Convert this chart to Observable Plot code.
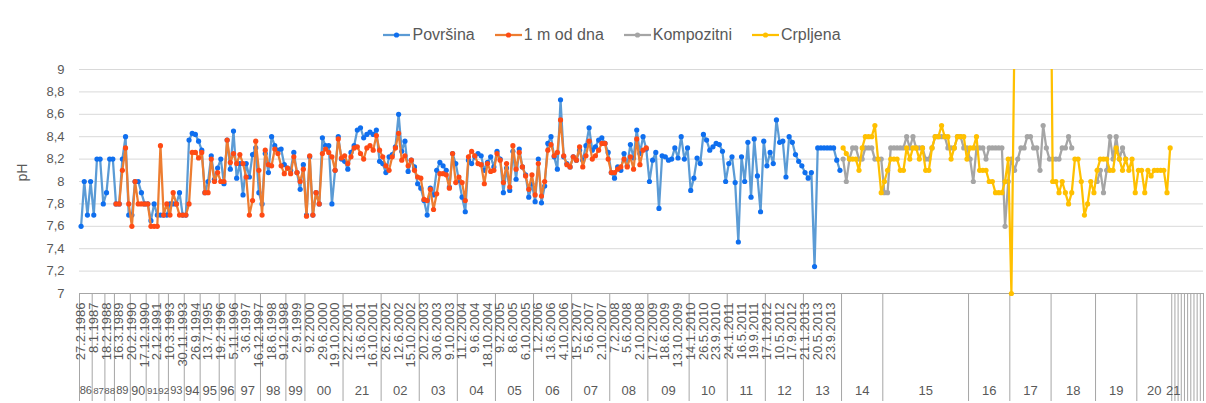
<!DOCTYPE html>
<html><head><meta charset="utf-8">
<script src="https://cdn.jsdelivr.net/npm/d3@7"></script>
<script src="https://cdn.jsdelivr.net/npm/@observablehq/plot@0.6"></script>
<style>
html,body{margin:0;padding:0;background:#fff;}
body{width:1206px;height:403px;overflow:hidden;font-family:"Liberation Sans",Arial,sans-serif;}
#legend{box-sizing:border-box;height:52px;padding-top:18px;padding-left:18px;display:flex;justify-content:center;align-items:center;gap:20px;font-size:16px;color:#595959;}
.item{display:flex;align-items:center;gap:2px;}
.item svg{display:block;}
</style></head><body>
<div id="legend"></div>
<div id="chart"></div>
<script>
// ---------- data ----------
const seriesNames = ["Površina", "1 m od dna", "Kompozitni", "Crpljena"];
const lineColors = ["#5B9BD5", "#ED7D31", "#A5A5A5", "#FFC000"];
const dotColors = ["#0F6FEF", "#FF4A14", "#A5A5A5", "#FFC000"];

const yTicks = [7, 7.2, 7.4, 7.6, 7.8, 8, 8.2, 8.4, 8.6, 8.8, 9];

// date labels shown on every 4th category
const labelEvery = 4;
const dateLabels = ["27.2.1986","8.1.1987","18.2.1988","16.3.1989","20.2.1990","17.12.1990","2.12.1991","10.3.1993","30.11.1993","26.9.1994",
"13.7.1995","19.2.1996","5.11.1996","3.6.1997","16.12.1997","18.6.1998","9.12.1998","2.9.1999","9.2.2000","29.6.2000",
"19.10.2000","22.2.2001","13.6.2001","16.10.2001","26.2.2002","12.6.2002","15.10.2002","20.2.2003","30.6.2003","9.10.2003",
"11.2.2004","9.6.2004","18.10.2004","9.2.2005","8.6.2005","6.10.2005","1.2.2006","13.6.2006","4.10.2006","15.2.2007",
"5.6.2007","2.10.2007","7.2.2008","5.6.2008","2.10.2008","17.2.2009","18.6.2009","13.10.2009","14.1.2010","26.5.2010",
"23.9.2010","24.1.2011","16.5.2011","19.9.2011","17.1.2012","10.5.2012","17.9.2012","21.1.2013","20.5.2013","23.9.2013"];

// year groups (second level of the category axis) and number of categories in each
const yearLabels = ["86","87","88","89","90","91","92","93","94","95","96","97","98","99","00","21","02","03","04","05","06","07","08","09","10","11","12","13","14","15","16","17","18","19","20","21","","","","","","","","",""];
const yearCounts = [4,4,3,5,5,4,3,5,5,6,5,8,8,6,12,12,12,12,12,12,12,12,12,13,12,12,12,12,13,27,13,13,14,13,11,1,1,1,1,1,1,1,1,1,1];

// Površina: categories from 0
const surfaceFirst = 0;
const surface = [7.6,8.0,7.7,8.0,7.7,8.2,8.2,7.8,7.9,8.2,8.2,
7.8,7.8,8.2,8.4,7.7,7.7,8.0,8.0,7.9,7.8,
7.8,7.65,7.8,7.7,7.7,7.7,7.7,7.8,7.8,7.8,
7.9,7.7,7.7,8.37,8.43,8.42,8.36,8.28,7.9,8.0,
8.23,8.02,8.12,8.2,7.98,8.37,8.11,8.45,8.03,8.16,
7.88,8.16,8.04,8.24,8.3,7.9,7.8,8.25,8.08,8.4,
8.32,8.28,8.29,8.15,8.12,8.1,8.26,8.08,7.93,8.15,
7.7,8.22,7.7,7.9,7.8,8.39,8.32,8.32,7.8,8.1,
8.4,8.2,8.18,8.11,8.26,8.32,
8.46,8.48,8.39,8.42,8.44,8.42,8.46,8.18,8.16,8.08,8.22,8.24,8.31,8.60,8.27,8.36,8.09,8.19,8.13,7.98,
7.94,7.83,7.70,7.94,7.88,8.10,8.17,8.14,8.10,7.95,8.25,8.16,8.01,7.86,7.73,8.19,8.16,8.22,8.25,8.23,
8.10,8.17,8.22,8.13,
8.27,8.20,7.90,8.12,7.92,8.27,8.02,8.29,8.13,8.06,7.86,7.98,7.82,8.20,7.81,7.96,8.34,8.40,8.22,8.11,
8.73,8.22,8.16,8.13,8.22,8.19,8.28,8.19,8.32,8.48,8.28,8.31,8.37,8.39,8.34,8.26,8.08,8.03,8.13,8.10,
8.25,8.14,8.33,8.21,8.46,8.25,
8.40,8.29,8.00,8.19,8.26,7.76,8.23,8.22,8.19,8.20,8.30,8.21,8.40,8.20,8.30,7.92,8.03,8.21,8.16,8.42,
8.37,8.28,8.31,8.34,8.33,8.27,8.00,8.16,8.22,7.99,7.46,8.22,8.00,8.35,7.86,8.38,8.05,7.73,8.36,8.14,
8.26,8.16,8.55,8.35,8.36,8.04,8.40,8.35,8.24,8.18,8.14,8.08,8.03,8.08,7.24,8.30,8.30,8.30,8.30,8.30,
8.30,8.19,8.10];

// 1 m od dna: categories from 11
const bottomFirst = 11;
const bottom = [7.8,7.8,8.1,8.3,7.8,7.6,8.0,7.8,7.8,7.8,
7.8,7.6,7.6,7.6,8.32,7.7,7.8,7.7,7.9,7.8,
7.7,7.7,7.7,7.8,8.26,8.26,8.21,8.26,7.9,7.9,
8.2,8.0,8.08,8.0,8.0,8.37,8.17,8.25,8.16,8.24,
8.16,8.04,7.7,7.83,8.36,8.1,7.7,8.28,8.15,8.14,
8.29,8.25,8.14,8.07,8.12,8.07,8.22,8.08,8.0,8.11,
7.69,8.23,7.7,7.9,7.8,8.25,8.29,8.26,8.22,8.1,
8.38,8.21,8.23,8.16,8.22,8.3,
8.31,8.25,8.20,8.30,8.32,8.28,8.41,8.28,8.22,8.14,8.10,8.22,8.30,8.43,8.19,8.23,8.14,8.19,8.10,8.04,
8.03,7.84,7.83,7.93,7.75,7.89,8.07,8.07,8.06,7.94,8.25,7.99,8.04,7.99,7.83,8.22,8.27,8.23,8.16,8.15,
7.98,8.16,8.09,8.10,
8.25,8.19,7.99,8.16,7.95,8.32,8.11,8.26,8.13,8.05,7.93,8.06,7.88,8.16,7.87,8.00,8.28,8.33,8.23,8.26,
8.55,8.23,8.15,8.13,8.22,8.19,8.31,8.13,8.23,8.36,8.20,8.23,8.28,8.34,8.34,8.20,8.08,8.08,8.11,8.13,
8.20,8.13,8.22,8.11,8.38,8.15,
8.28,8.30];

// Kompozitni: categories from 240
const compositeFirst = 240;
const composite = [8.2,8.0,8.2,8.3,8.3,8.2,8.2,8.3,8.3,8.3,
8.2,8.2,8.2,7.9,7.9,8.3,8.3,8.3,8.3,8.3,
8.4,8.3,8.4,8.3,8.3,8.3,8.2,8.2,8.3,8.4,
8.4,8.4,8.4,8.3,8.3,8.3,8.4,8.4,8.3,8.3,
8.2,8.0,8.3,8.3,8.3,8.2,8.3,8.3,8.3,8.3,
8.3,7.6,8.0,8.2,8.1,8.2,8.3,8.3,8.4,8.4,
8.3,8.3,8.1,8.5,8.3,8.2,8.2,8.2,8.2,8.3,
8.3,8.4,8.3,null,null,null,null,null,null,null,
8.0,8.1,7.9,8.1,8.4,8.2,8.4,8.2,8.3,8.2];

// Crpljena: categories from 240 (values above 9 run off the chart)
const pumpedFirst = 240;
const pumped = [8.3,8.25,8.2,8.2,8.2,8.1,8.3,8.4,8.4,8.4,
8.5,8.2,7.9,8.0,8.1,8.2,8.2,8.2,8.1,8.1,
8.3,8.2,8.3,8.3,8.2,8.3,8.1,8.1,8.3,8.4,
8.4,8.5,8.4,8.4,8.2,8.3,8.4,8.4,8.4,8.2,
8.3,8.3,8.4,8.1,8.1,8.1,8.0,8.0,7.9,7.9,
7.9,8.0,8.2,7.0,9.4,null,null,null,null,null,
null,null,null,null,null,11.3,8.0,8.0,7.9,8.0,
7.9,7.8,7.9,8.2,8.2,8.0,7.7,7.8,8.0,7.9,
8.1,8.2,8.2,8.2,8.1,8.1,8.3,8.2,8.1,8.2,
8.1,8.2,7.9,8.1,8.1,7.9,8.1,8.05,8.1,8.1,
8.1,8.1,7.9,8.3];

// ---------- build ----------
const seriesData = [[surface, surfaceFirst],[bottom, bottomFirst],[composite, compositeFirst],[pumped, pumpedFirst]]
  .map(([vals, first]) => vals.map((v, k) => ({i: first + k, v})));

const nCats = d3.sum(yearCounts);
const starts = d3.cumsum([0, ...yearCounts]); // boundaries
const catPx = (1206 - 79 - 3) / nCats; // width of one category in pixels
const years = yearLabels.map((label, k) => ({label, start: starts[k], count: yearCounts[k], mid: starts[k] + yearCounts[k] / 2}));
// shrink crowded year labels so neighbours do not overlap
years.forEach((d, k) => {
  let gap = Infinity;
  const prev = years[k - 1], next = years[k + 1];
  if (prev && prev.label) gap = Math.min(gap, (d.mid - prev.mid) * catPx);
  if (next && next.label) gap = Math.min(gap, (next.mid - d.mid) * catPx);
  d.size = Math.min(13, gap / 1.14);
});
const dateRows = dateLabels.map((label, k) => ({label, i: k * labelEvery}));

// legend
const legend = d3.select("#legend");
seriesNames.forEach((name, k) => {
  const item = legend.append("div").attr("class", "item");
  const svg = item.append("svg").attr("width", 27).attr("height", 10);
  svg.append("line").attr("x1", 0).attr("x2", 27).attr("y1", 5).attr("y2", 5)
    .attr("stroke", lineColors[k]).attr("stroke-width", 2.25);
  svg.append("circle").attr("cx", 13.5).attr("cy", 5).attr("r", 2.6).attr("fill", dotColors[k]);
  item.append("span").text(name);
});

const cx = d => d.i + 0.5;
const seriesMarks = seriesData.flatMap((rows, k) => [
  Plot.line(rows, {x: cx, y: "v", stroke: lineColors[k], strokeWidth: 2.25, strokeLinejoin: "round", clip: true}),
  Plot.dot(rows.filter(d => d.v != null && d.v <= 9), {x: cx, y: "v", r: 2.6, fill: dotColors[k], stroke: "none"})
]);

const yearMarks = d3.groups(years.filter(d => d.label), d => d.size).map(([size, rows]) =>
  Plot.text(rows, {x: "mid", text: "label", frameAnchor: "bottom", lineAnchor: "middle", dy: 97, fontSize: size, fill: "#595959"})
);

const chart = Plot.plot({
  width: 1206,
  height: 351,
  marginLeft: 79,
  marginRight: 3,
  marginTop: 17,
  marginBottom: 110,
  style: {fontFamily: "'Liberation Sans', Arial, sans-serif", fontSize: "13px", color: "#595959", background: "#fff", overflow: "visible"},
  x: {domain: [0, nCats], axis: null},
  y: {domain: [7, 9]},
  marks: [
    Plot.gridY(yTicks.filter(t => t > 7), {stroke: "#d9d9d9", strokeOpacity: 1, strokeWidth: 1}),
    Plot.axisY(yTicks, {tickSize: 0, tickPadding: 15, label: null, tickFormat: d => String(d).replace(".", ","), fill: "#595959", fontSize: 13}),
    Plot.text(["pH"], {frameAnchor: "left", dx: -57, rotate: -90, fontSize: 14, fill: "#595959"}),
    Plot.ruleX(starts, {stroke: "#a6a6a6", strokeWidth: 1, insetTop: 224, insetBottom: -108}),
    Plot.ruleY([7], {stroke: "#a6a6a6", strokeWidth: 1}),
    Plot.text(dateRows, {x: cx, text: "label", frameAnchor: "bottom", rotate: -90, textAnchor: "end", lineAnchor: "middle", dy: 9, fontSize: 13, fill: "#595959"}),
    ...yearMarks,
    ...seriesMarks
  ]
});
document.getElementById("chart").append(chart);
</script>
</body></html>
